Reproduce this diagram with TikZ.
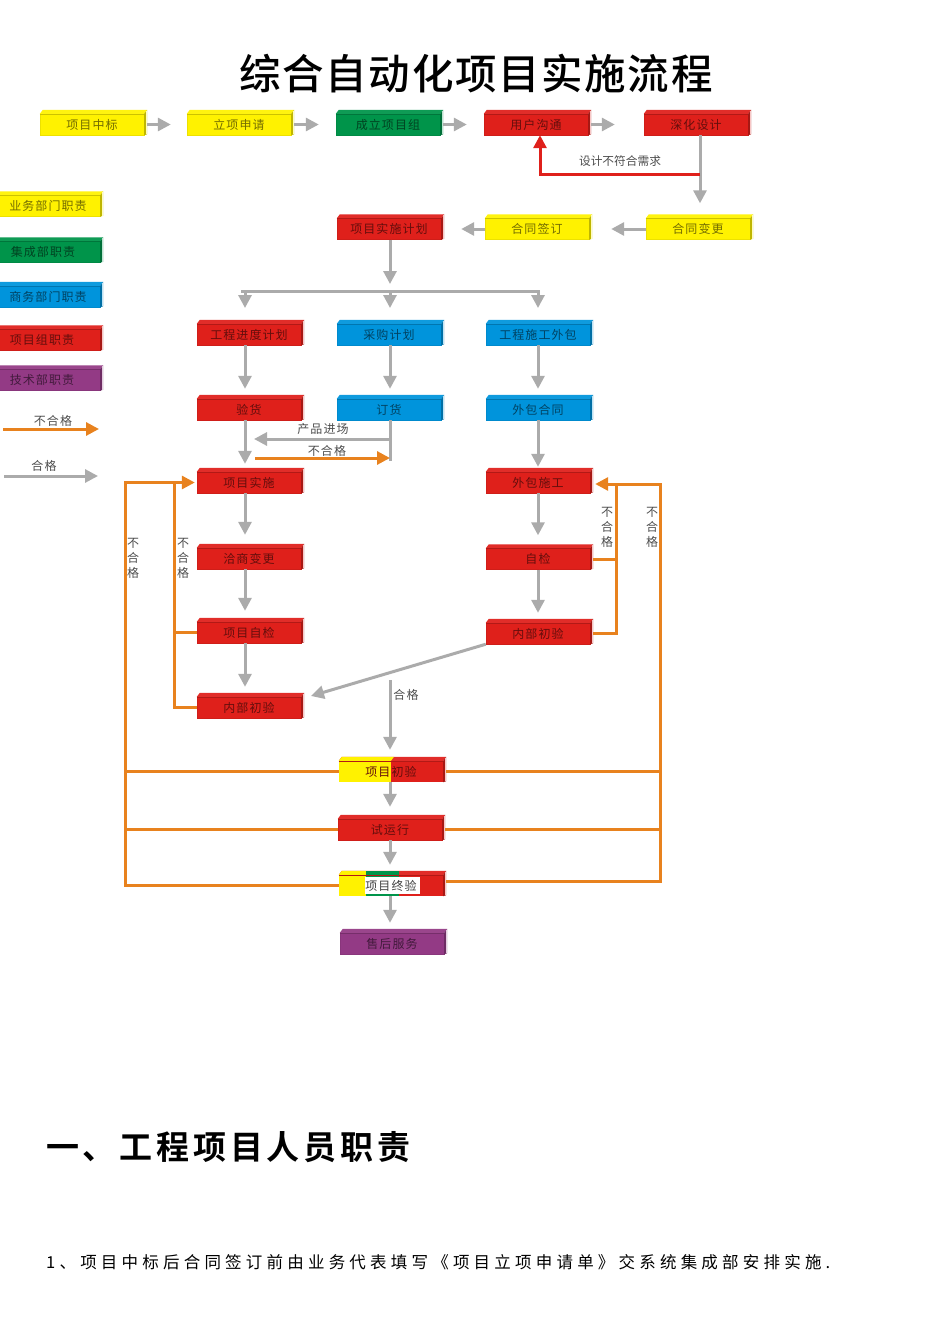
\documentclass[tikz,border=0pt]{standalone}
\usepackage{xcolor}
\usepackage{fontspec}
\setmainfont{Noto Sans CJK SC}
\newfontfamily\titlefont[LetterSpace=4]{Noto Sans CJK SC Medium}
\newfontfamily\headfont[LetterSpace=11.5]{Noto Sans CJK SC Bold}
\newfontfamily\bodyfont[LetterSpace=25.5]{Noto Sans CJK SC}
\newfontfamily\blockfont[LetterSpace=9]{Noto Sans CJK SC}
\usepackage{tikz}
\usetikzlibrary{arrows.meta}

\definecolor{blockred}{HTML}{DF201B}
\definecolor{blockyellow}{HTML}{FFF200}
\definecolor{blockgreen}{HTML}{00944A}
\definecolor{blockblue}{HTML}{0094DC}
\definecolor{blockpurple}{HTML}{933A85}
\definecolor{flowgray}{HTML}{ABABAB}
\definecolor{floworange}{HTML}{E8821E}

\tikzset{
  blockbox/.style={fill=#1, draw=#1!93!black, line width=.4pt, inner sep=0pt,
    minimum width=104pt, minimum height=21pt, text=#1!45!black,
    font=\blockfont\fontsize{12}{12}\selectfont},
  label/.style={text=black!70, inner sep=0pt, align=center,
    font=\blockfont\fontsize{12}{15}\selectfont},
  okline/.style={draw=flowgray, line width=3pt},
  okarrow/.style={okline, -{Triangle[length=13pt,width=13pt]}},
  failline/.style={draw=floworange, line width=3pt},
  failarrow/.style={failline, -{Triangle[length=13pt,width=13pt]}},
  twotone/.style={draw=none, path picture={
    \fill[blockyellow] (path picture bounding box.north west) rectangle ([xshift=52]path picture bounding box.south west);}},
  threetone/.style={draw=none, path picture={
    \fill[blockyellow] (path picture bounding box.north west) rectangle ([xshift=27]path picture bounding box.south west);
    \fill[blockgreen] ([xshift=27]path picture bounding box.north west) rectangle ([xshift=60]path picture bounding box.south west);
    \fill[white] ([xshift=26,yshift=-2]path picture bounding box.north west) rectangle ([xshift=81,yshift=2]path picture bounding box.south west);}},
}

% face of the block as a node, then its top and side bevels
\newcommand{\blockbox}[5][]{
  \node[blockbox=#4,#1] (#2) at (#3) {#5};
  \fill[#4!94!white] (#2.north west) -- ++(3,-4) -- ([shift={(3,-4)}]#2.north east) -- (#2.north east) -- cycle;
  \draw[#4!80!black, line width=.4pt] (#2.north west) -- (#2.north east);
  \fill[#4!75!black] (#2.north east) -- ++(3,-4) -- ([shift={(3,-1)}]#2.south east) -- (#2.south east) -- cycle;
  \draw[white!75!#4, line width=.8pt] ([shift={(2.2,-3)}]#2.north east) -- ([shift={(2.2,-1)}]#2.south east);
}

\begin{document}
\begin{tikzpicture}[x=1pt,y=-1pt]
  \useasboundingbox (0,0) rectangle (950,1344);

  %% title
  \node[inner sep=0pt, font=\titlefont\fontsize{41.5}{42}\selectfont] (maintitle) at (476,74) {综合自动化项目实施流程};

  %% legend
  \blockbox{legyw}{48,206}{blockyellow}{业务部门职责}
  \blockbox[minimum width=114pt]{leggn}{43,252}{blockgreen}{集成部职责}
  \blockbox{legbu}{48,296.5}{blockblue}{商务部门职责}
  \blockbox[minimum width=116pt]{legrd}{42,340}{blockred}{项目组职责}
  \blockbox[minimum width=116pt]{legpp}{42,380}{blockpurple}{技术部职责}
  \node[label] (legfail) at (53,421) {不合格};
  \node[label] (legok) at (44,466) {合格};
  \coordinate (legfaila) at (3,429);
  \coordinate (legfailb) at (99,429);
  \coordinate (legoka) at (4,476);
  \coordinate (legokb) at (98,476);
  \draw[failarrow] (legfaila) -- (legfailb);
  \draw[okarrow] (legoka) -- (legokb);

  %% top row
  \blockbox{bidwin}{92,124.5}{blockyellow}{项目中标}
  \blockbox{apply}{239,124.5}{blockyellow}{立项申请}
  \blockbox{team}{388,124.5}{blockgreen}{成立项目组}
  \blockbox{talk}{536,124.5}{blockred}{用户沟通}
  \blockbox{design}{696,124.5}{blockred}{深化设计}
  \draw[okarrow, shorten <=3pt, shorten >=16pt] (bidwin) -- (apply);
  \draw[okarrow, shorten <=3pt, shorten >=17pt] (apply) -- (team);
  \draw[okarrow, shorten <=3pt, shorten >=17pt] (team) -- (talk);
  \draw[okarrow, shorten <=3pt, shorten >=29pt] (talk) -- (design);

  %% contract row
  \blockbox{change}{698,229}{blockyellow}{合同变更}
  \blockbox{sign}{537,229}{blockyellow}{合同签订}
  \blockbox{plan}{389,229}{blockred}{项目实施计划}
  \draw[okarrow, shorten >=15pt] ([xshift=4]design.south) -- ([xshift=2]change.north);
  \draw[okarrow, shorten >=22pt] (change) -- (sign);
  \draw[okarrow, shorten >=20pt] (sign) -- (plan);

  %% design rejected
  \coordinate (rejturn) at (700,174);
  \draw[draw=blockred, line width=3pt, -{Triangle[length=13pt,width=13pt]}] (rejturn) -| ([xshift=4]talk.south);
  \node[label, font=\fontsize{11.7}{12}\selectfont] (rejlabel) at (620,161) {设计不符合需求};

  %% three branches
  \blockbox{sched}{249,334.5}{blockred}{工程进度计划}
  \blockbox{purch}{389,334.5}{blockblue}{采购计划}
  \blockbox{subcon}{538,334.5}{blockblue}{工程施工外包}
  \blockbox{check}{249,409.5}{blockred}{验货}
  \blockbox{order}{389,409.5}{blockblue}{订货}
  \blockbox{subctr}{538,409.5}{blockblue}{外包合同}
  \coordinate (splitl) at (241,291);
  \coordinate (splitm) at (390,291);
  \coordinate (splitr) at (539,291);
  \coordinate (splita) at (245,290);
  \coordinate (splitb) at (245,308);
  \coordinate (splitc) at (390,290);
  \coordinate (splitd) at (390,308);
  \coordinate (splite) at (538,290);
  \coordinate (splitf) at (538,308);
  \draw[okarrow, shorten >=7pt] ([xshift=1]plan.south) -- (splitm);
  \draw[okline] (splitl) -- (splitr);
  \draw[okarrow] (splita) -- (splitb);
  \draw[okarrow] (splitc) -- (splitd);
  \draw[okarrow] (splite) -- (splitf);
  \draw[okarrow, shorten >=10pt] ([xshift=-4]sched.south) -- ([xshift=-4]check.north);
  \draw[okarrow, shorten >=10pt] ([xshift=1]purch.south) -- ([xshift=1]order.north);
  \draw[okarrow, shorten >=10pt] (subcon) -- (subctr);

  %% left column
  \blockbox{exec}{249,482.5}{blockred}{项目实施}
  \blockbox{nego}{249,558.5}{blockred}{洽商变更}
  \blockbox{selfchk}{249,632.5}{blockred}{项目自检}
  \blockbox{inspl}{249,707.5}{blockred}{内部初验}
  \draw[okarrow, shorten >=8pt] ([xshift=-4]check.south) -- ([xshift=-4]exec.north);
  \draw[okarrow, shorten >=13pt] ([xshift=-4]exec.south) -- ([xshift=-4]nego.north);
  \draw[okarrow, shorten >=11pt] ([xshift=-4]nego.south) -- ([xshift=-4]selfchk.north);
  \draw[okarrow, shorten >=10pt] ([xshift=-4]selfchk.south) -- ([xshift=-4]inspl.north);

  %% goods arriving
  \coordinate (orderend) at (390,461);
  \coordinate (orderturn) at (390,439);
  \coordinate (orderhead) at (254,439);
  \coordinate (refusea) at (255,458);
  \coordinate (refuseb) at (390,458);
  \draw[okline] ([xshift=1]order.south) -- (orderend);
  \draw[okarrow] (orderturn) -- (orderhead);
  \draw[failarrow] (refusea) -- (refuseb);
  \node[label] (arrive) at (323,429) {产品进场};
  \node[label] (refuse) at (327,451) {不合格};

  %% right column
  \blockbox{subexec}{538,482.5}{blockred}{外包施工}
  \blockbox{subchk}{538,559}{blockred}{自检}
  \blockbox{inspr}{538,633.5}{blockred}{内部初验}
  \draw[okarrow, shorten >=5pt] (subctr) -- (subexec);
  \draw[okarrow, shorten >=13pt] (subexec) -- (subchk);
  \draw[okarrow, shorten >=10pt] (subchk) -- (inspr);
  \coordinate (diagend) at (311,696);
  \draw[okarrow] (inspr.south west) -- (diagend);

  %% acceptance
  \blockbox[twotone]{firstacc}{391,771.5}{blockred}{项目初验}
  \fill[blockyellow] (firstacc.north west) -- ++(3,-4) -- ([shift={(3,-4)}]firstacc.north) -- (firstacc.north) -- cycle;
  \blockbox{trial}{390,829.5}{blockred}{试运行}
  \blockbox[threetone, text=black!75]{finalacc}{391,885.5}{blockred}{项目终验}
  \fill[blockyellow] (finalacc.north west) -- ++(3,-4) -- ([shift={(27,-4)}]finalacc.north west) -- ([xshift=27]finalacc.north west) -- cycle;
  \fill[blockgreen] ([xshift=27]finalacc.north west) -- ++(0,-4) -- ([shift={(60,-4)}]finalacc.north west) -- ([xshift=60]finalacc.north west) -- cycle;
  \blockbox{service}{392,943.5}{blockpurple}{售后服务}
  \coordinate (oktop) at (390,680);
  \node[label] (oklabel) at (406,695) {合格};
  \draw[okarrow, shorten >=11pt] (oktop) -- (firstacc.north -| oktop);
  \draw[okarrow, shorten >=12pt] (firstacc.south -| oktop) -- (trial.north -| oktop);
  \draw[okarrow, shorten >=10pt] (trial.south -| oktop) -- (finalacc.north -| oktop);
  \draw[okarrow, shorten >=10pt] (finalacc.south -| oktop) -- (service.north -| oktop);

  %% rejected, left side
  \coordinate (outerl) at (125,482.5);
  \coordinate (innerl) at (174,482.5);
  \draw[failline] (firstacc.west) -- (firstacc.west -| outerl);
  \draw[failline] (trial.west) -- (trial.west -| outerl);
  \draw[failarrow, shorten >=2pt] (finalacc.west) -| (outerl) -- (exec.west);
  \draw[failline] (selfchk.west) -- (selfchk.west -| innerl);
  \draw[failline] (inspl.west) -| (innerl);
  \node[label] (outerlbl) at (133,558) {不\\合\\格};
  \node[label] (innerlbl) at (183,558) {不\\合\\格};

  %% rejected, right side
  \coordinate (outerr) at (660,484);
  \coordinate (innerr) at (616,484);
  \coordinate (finalr) at (446,881);
  \draw[failline, shorten <=3pt] (firstacc.east) -- (firstacc.east -| outerr);
  \draw[failline, shorten <=3pt] (trial.east) -- (trial.east -| outerr);
  \draw[failarrow, shorten >=5pt] (finalr) -| (outerr) -- (outerr -| subexec.east);
  \draw[failline, shorten <=3pt] (subchk.east) -- (subchk.east -| innerr);
  \draw[failline, shorten <=3pt] (inspr.east) -| (innerr);
  \node[label] (innerrlbl) at (607,527) {不\\合\\格};
  \node[label] (outerrlbl) at (652,527) {不\\合\\格};

  %% text below the chart
  \node[inner sep=0pt, anchor=west, font=\headfont\fontsize{33}{34}\selectfont] (section) at (46,1147) {一、工程项目人员职责};
  \node[inner sep=0pt, anchor=west, font=\bodyfont\fontsize{16.5}{17}\selectfont] (bodyline) at (46,1262) {1、项目中标后合同签订前由业务代表填写《项目立项申请单》交系统集成部安排实施.};
\end{tikzpicture}
\end{document}
